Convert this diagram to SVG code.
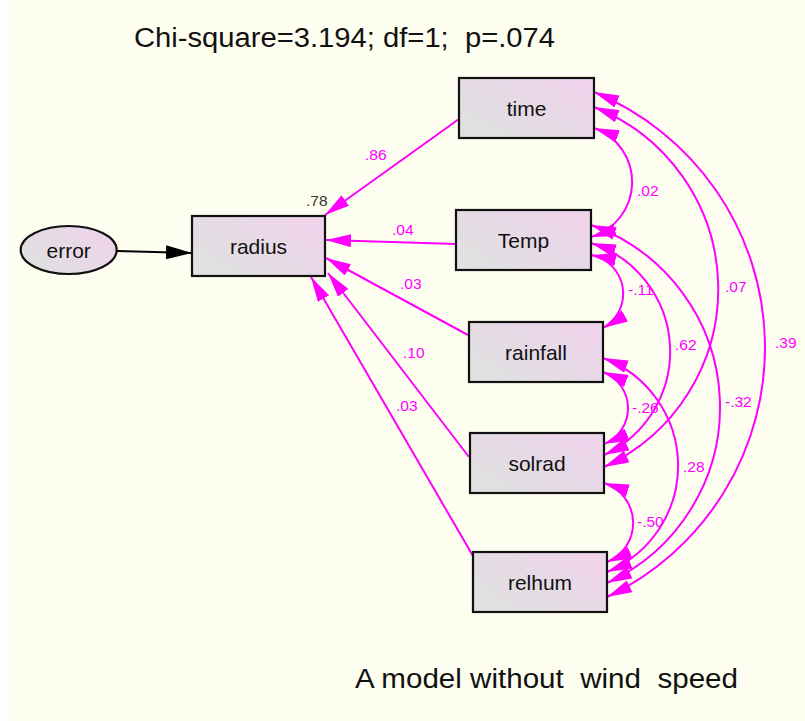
<svg xmlns="http://www.w3.org/2000/svg" width="805" height="721" viewBox="0 0 805 721">
<defs>
<linearGradient id="fillg" x1="0" y1="1" x2="1" y2="0.3">
<stop offset="0" stop-color="#dde3df"/>
<stop offset="1" stop-color="#eed3ea"/>
</linearGradient>
<marker id="mh" markerUnits="userSpaceOnUse" viewBox="0 0 25 13" markerWidth="25" markerHeight="13" refX="25" refY="6.5" orient="auto-start-reverse">
<path d="M0,0 L25,6.5 L0,13 z" fill="#ff00ff"/>
</marker>
<marker id="bh" markerUnits="userSpaceOnUse" viewBox="0 0 26 14" markerWidth="26" markerHeight="14" refX="26" refY="7" orient="auto">
<path d="M0,0 L26,7 L0,14 z" fill="#000"/>
</marker>
</defs>
<style>
.box{fill:url(#fillg);stroke:#111;stroke-width:2.2}
.lbl{font-family:"Liberation Sans",Arial,sans-serif;font-size:21px;fill:#111;text-anchor:middle}
.path{fill:none;stroke:#ff00ff;stroke-width:2;marker-end:url(#mh)}
.cov{fill:none;stroke:#ff00ff;stroke-width:2;marker-start:url(#mh);marker-end:url(#mh)}
.val{font-family:"Liberation Sans",Arial,sans-serif;font-size:15.5px;fill:#ff00ff}
.big{font-family:"Liberation Sans",Arial,sans-serif;font-size:27px;fill:#111}
</style>
<rect x="0" y="0" width="805" height="721" fill="#ffffff"/>
<rect x="7" y="0" width="798" height="721" fill="#fdfeef"/>
<text class="big" x="134" y="47" textLength="421" lengthAdjust="spacingAndGlyphs" xml:space="preserve">Chi-square=3.194; df=1;  p=.074</text>
<text class="big" x="355" y="688" textLength="383" lengthAdjust="spacingAndGlyphs" xml:space="preserve">A model without  wind  speed</text>
<g id="connectors">
<line x1="117" y1="251" x2="192" y2="253" stroke="#000" stroke-width="2" marker-end="url(#bh)"/>
<line class="path" x1="459" y1="119" x2="325" y2="215"/>
<line class="path" x1="456" y1="244" x2="326" y2="240"/>
<line class="path" x1="468" y1="335" x2="326" y2="258"/>
<line class="path" x1="469" y1="457" x2="328" y2="273"/>
<line class="path" x1="473" y1="556" x2="311" y2="277"/>
<path class="cov" d="M594,128 A57.3,57.3 0 0 1 591,237"/>
<path class="cov" d="M591,255 A39.3,39.3 0 0 1 603,328"/>
<path class="cov" d="M603,372 A38.7,38.7 0 0 1 604,444"/>
<path class="cov" d="M604,483 A42.1,42.1 0 0 1 607,562"/>
<path class="cov" d="M594,107 A195.6,195.6 0 0 1 604,467"/>
<path class="cov" d="M591,243 A114,114 0 0 1 604,455"/>
<path class="cov" d="M594,92 A276.2,276.2 0 0 1 607,597"/>
<path class="cov" d="M591,225 A193.2,193.2 0 0 1 607,583"/>
<path class="cov" d="M603,358 A114.9,114.9 0 0 1 607,572"/>
</g>
<g id="labels">
<text class="val" x="365" y="160">.86</text>
<text class="val" x="306" y="206" style="fill:#333">.78</text>
<text class="val" x="392" y="235">.04</text>
<text class="val" x="400" y="289">.03</text>
<text class="val" x="403" y="358">.10</text>
<text class="val" x="396" y="411">.03</text>
<text class="val" x="637" y="196">.02</text>
<text class="val" x="628" y="295">-.11</text>
<text class="val" x="725" y="292">.07</text>
<text class="val" x="675" y="350">.62</text>
<text class="val" x="775" y="348">.39</text>
<text class="val" x="725" y="407">-.32</text>
<text class="val" x="632" y="413">-.26</text>
<text class="val" x="683" y="472">.28</text>
<text class="val" x="637" y="527">-.50</text>
</g>
<g id="error">
<ellipse cx="68.7" cy="250" rx="48" ry="24" class="box"/>
<text class="lbl" x="68.7" y="257.5">error</text>
</g>
<g id="radius">
<rect x="192" y="216" width="133" height="60" class="box"/>
<text class="lbl" x="258.5" y="253.5">radius</text>
</g>
<g id="time">
<rect x="459" y="78" width="135" height="60" class="box"/>
<text class="lbl" x="526.5" y="115.5">time</text>
</g>
<g id="Temp">
<rect x="456" y="210" width="135" height="60" class="box"/>
<text class="lbl" x="523.5" y="247.5">Temp</text>
</g>
<g id="rainfall">
<rect x="469" y="322" width="134" height="60" class="box"/>
<text class="lbl" x="536" y="359.5">rainfall</text>
</g>
<g id="solrad">
<rect x="470" y="433" width="134" height="60" class="box"/>
<text class="lbl" x="537" y="470.5">solrad</text>
</g>
<g id="relhum">
<rect x="473" y="552" width="134" height="60" class="box"/>
<text class="lbl" x="540" y="589.5">relhum</text>
</g>
</svg>
